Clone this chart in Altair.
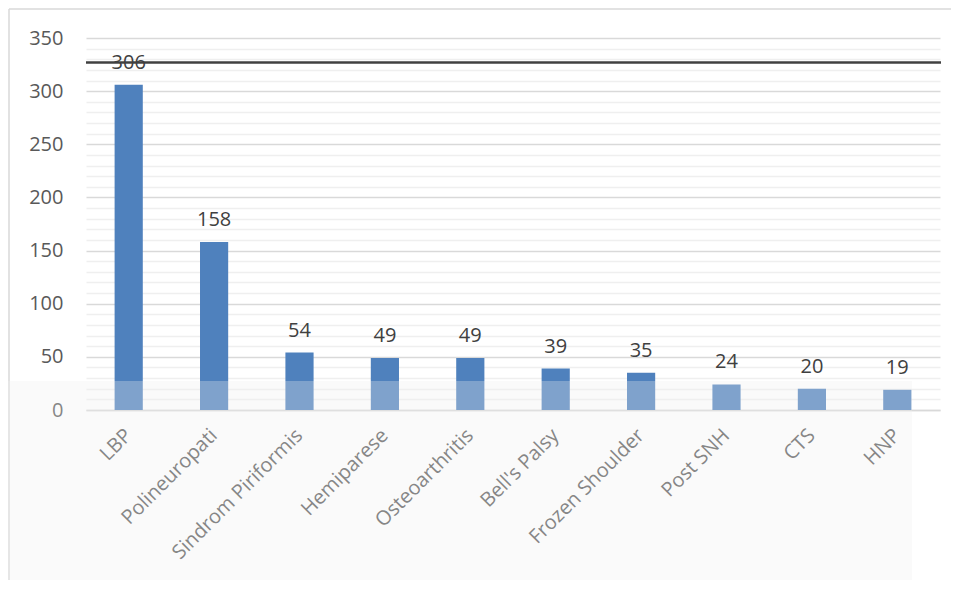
import altair as alt
import pandas as pd

categories = ["LBP", "Polineuropati", "Sindrom Piriformis", "Hemiparese", "Osteoarthritis",
              "Bell's Palsy", "Frozen Shoulder", "Post SNH", "CTS", "HNP"]
values = [306, 158, 54, 49, 49, 39, 35, 24, 20, 19]
y_ticks = list(range(0, 351, 10))
ref_line = [327]

df = pd.DataFrame({"cat": categories, "val": values})
FONT = "Open Sans"
W, H = 854, 372

x_axis = alt.Axis(title=None, labelAngle=-45, labelFontSize=20, labelFont=FONT,
                  labelColor="#595959", ticks=False, domainColor="#d9d9d9",
                  domainWidth=1.5, labelPadding=22, labelLimit=400,
                  labelAlign="right", labelBaseline="middle")
x_scale = alt.Scale(paddingInner=0.67, paddingOuter=0.335)
x_enc = alt.X("cat:N", sort=categories, scale=x_scale, axis=x_axis)

y_axis = alt.Axis(title=None, values=y_ticks, labelOverlap=False,
                  labelExpr="datum.value % 50 === 0 ? datum.label : ''",
                  gridColor={"condition": {"test": "datum.value % 50 === 0", "value": "#d9d9d9"},
                             "value": "#efefef"},
                  gridWidth=1.5, ticks=False, domain=False,
                  labelFontSize=20, labelFont=FONT, labelColor="#595959",
                  labelPadding=23)
y_scale = alt.Scale(domain=[0, 350], nice=False)
y_enc = alt.Y("val:Q", scale=y_scale, axis=y_axis)

bars = alt.Chart(df).mark_bar(color="#4F81BD").encode(x=x_enc, y=y_enc)
labels = alt.Chart(df).mark_text(fontSize=20, font=FONT, color="#404040",
                                 baseline="alphabetic", dy=-16).encode(
    x=x_enc, y=y_enc, text="val:Q")

line = alt.Chart(pd.DataFrame({"val": ref_line})).mark_rule(color="#404040", strokeWidth=2.5).encode(
    y=y_enc, x=alt.value(0), x2=alt.value(W + 1))

frame_top = alt.Chart(pd.DataFrame({"v": [0]})).mark_rule(color="#d9d9d9", strokeWidth=1.5).encode(
    x=alt.value(-77), x2=alt.value(W + 20), y=alt.value(-29))
frame_left = alt.Chart(pd.DataFrame({"v": [0]})).mark_rule(color="#d9d9d9", strokeWidth=1.5).encode(
    x=alt.value(-77), y=alt.value(-29), y2=alt.value(H + 200))

overlay = alt.Chart(pd.DataFrame({"v": [0]})).mark_rect(color="#eeeeee", opacity=0.3).encode(
    x=alt.value(-78), x2=alt.value(826), y=alt.value(343), y2=alt.value(H + 200))

chart = alt.layer(bars, labels, line, frame_top, frame_left, overlay).properties(
    width=W, height=H,
    background="white",
    autosize=alt.AutoSizeParams(type="none"),
    padding={"left": 78, "top": 30, "right": 11, "bottom": 170},
).configure_view(stroke=None)

chart.save("out.html", embed_options={"renderer": "svg", "actions": False})
